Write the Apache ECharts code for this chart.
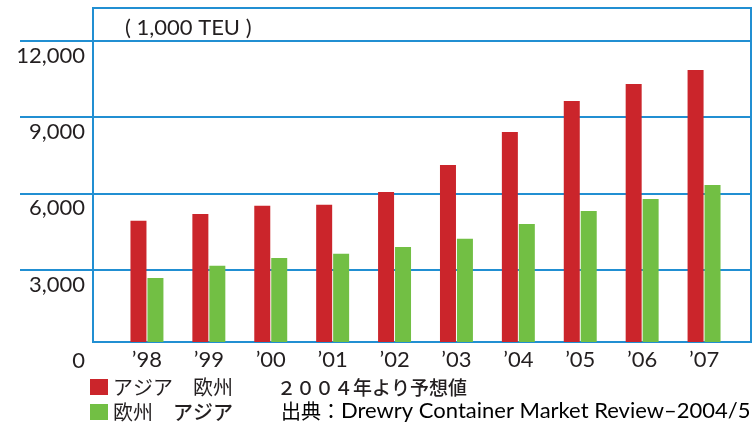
<!DOCTYPE html>
<html>
<head>
<meta charset="utf-8">
<title>Asia-Europe container trade</title>
<script src="https://cdn.jsdelivr.net/npm/echarts@6/dist/echarts.min.js"></script>
<style>
  html, body { margin: 0; padding: 0; background: #fff; }
  #chart { width: 753px; height: 422px; }
</style>
</head>
<body>
<div id="chart"></div>
<script>
// data (1,000 TEU)
const years = ['’98', '’99', '’00', '’01', '’02', '’03', '’04', '’05', '’06', '’07'];
const asiaToEurope = [4920, 5190, 5510, 5550, 6060, 7120, 8420, 9640, 10310, 10860];
const europeToAsia = [2670, 3150, 3460, 3620, 3890, 4210, 4800, 5310, 5780, 6330];
const seriesNames = ['アジア　欧州', '欧州　アジア'];

const BLUE = '#218fd2';
const FONT = 'Lato, "Noto Sans CJK JP", sans-serif';
const CJK = '"Noto Sans CJK JP", sans-serif';

const chart = echarts.init(document.getElementById('chart'));

chart.setOption({
    animation: false,
    grid: [
        // bars
        { left: 116, right: 18, top: 41, bottom: 80 },
        // scale labels + grid lines (lines run out past the frame on the left)
        { left: 20, right: 2, top: 41, bottom: 76.2 },
        // blue frame
        { left: 93, right: 2, top: 8, bottom: 80, show: true, borderColor: BLUE, borderWidth: 2, backgroundColor: 'transparent' }
    ],
    xAxis: [
        {
            gridIndex: 0,
            type: 'category',
            data: years,
            axisLine: { show: false },
            axisTick: { show: false },
            axisLabel: { fontFamily: FONT, fontSize: 22, color: '#231f20', margin: 7 }
        },
        { gridIndex: 1, type: 'value', show: false },
        { gridIndex: 2, type: 'value', show: false }
    ],
    yAxis: [
        { gridIndex: 0, type: 'value', min: 150, max: 12000, show: false },
        {
            gridIndex: 1,
            type: 'value',
            min: 0,
            max: 12000,
            interval: 3000,
            axisLine: { show: false },
            axisTick: { show: false },
            axisLabel: {
                fontFamily: FONT, fontSize: 22, color: '#231f20',
                margin: -65, align: 'right', verticalAlign: 'top', padding: [4, 0, 0, 0]
            },
            splitLine: { showMinLine: false, lineStyle: { color: BLUE, width: 2 } }
        },
        { gridIndex: 2, type: 'value', show: false }
    ],
    legend: {
        orient: 'vertical',
        left: 90,
        top: 377,
        height: 60,
        padding: 0,
        itemWidth: 18,
        itemHeight: 16,
        itemGap: 5,
        icon: 'rect',
        data: seriesNames,
        // the second entry has its "アジア" a bit heavier
        formatter: name => {
            if (name !== seriesNames[1]) return name;
            const parts = name.split('　');
            return parts[0] + '　{b|' + parts[1] + '}';
        },
        textStyle: {
            fontFamily: CJK, fontSize: 20, color: '#231f20',
            rich: { b: { fontFamily: CJK, fontSize: 20, fontWeight: 500, color: '#231f20' } }
        }
    },
    graphic: [
        {
            type: 'text', x: 125, y: 28,
            style: { text: '( 1,000 TEU )', font: '22px ' + FONT, fill: '#231f20', verticalAlign: 'middle' }
        },
        {
            type: 'text', x: 277, y: 388,
            style: { text: '２００４年より予想値', font: '500 19px ' + CJK, fill: '#231f20', verticalAlign: 'middle' }
        },
        {
            type: 'text', x: 281, y: 411,
            style: {
                text: '{a|出典：}{b|Drewry Container Market Review–2004/5}',
                verticalAlign: 'middle',
                rich: {
                    a: { fontFamily: CJK, fontSize: 20, color: '#333' },
                    b: { fontFamily: FONT, fontSize: 22, color: '#333' }
                }
            }
        }
    ],
    series: [
        {
            name: seriesNames[0],
            type: 'bar',
            xAxisIndex: 0, yAxisIndex: 0,
            data: asiaToEurope,
            barWidth: 16,
            barGap: '6%',
            itemStyle: { color: '#cb252b' }
        },
        {
            name: seriesNames[1],
            type: 'bar',
            xAxisIndex: 0, yAxisIndex: 0,
            data: europeToAsia,
            barWidth: 16,
            itemStyle: { color: '#72bf44' }
        }
    ]
});
</script>
</body>
</html>
